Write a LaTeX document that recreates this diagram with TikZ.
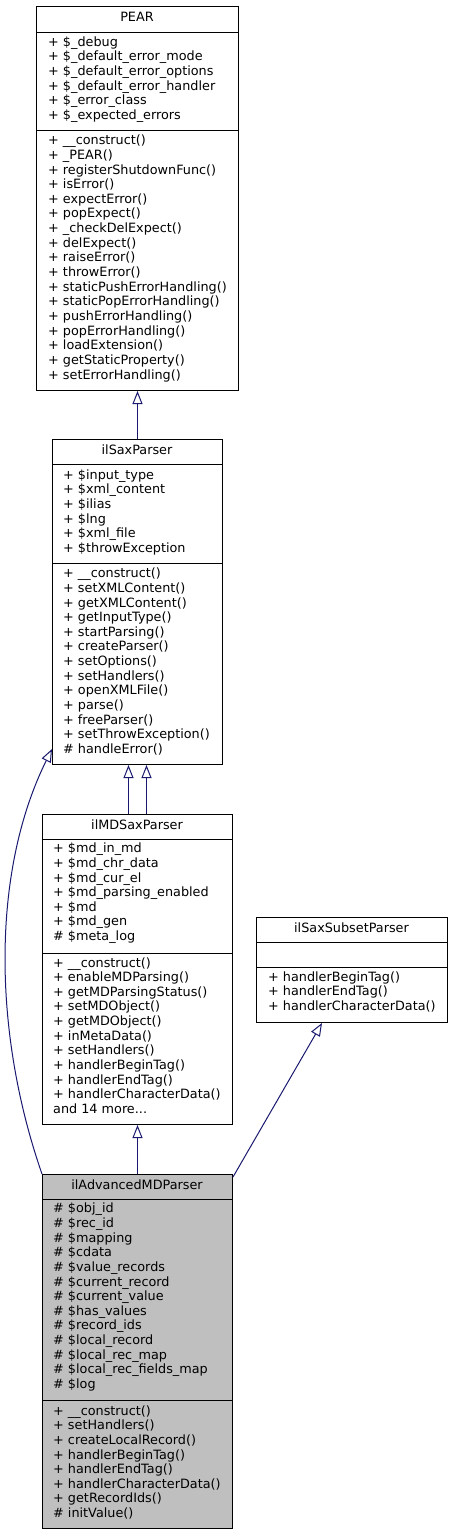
\documentclass[tikz,border=0pt]{standalone}
\usepackage{fontspec}
\setmainfont{DejaVu Sans}
\usetikzlibrary{arrows.meta}
\definecolor{edgeblue}{HTML}{191970}
\definecolor{curfill}{HTML}{BFBFBF}
\tikzset{
  cls/.style={draw=black, line width=1pt, fill=white, rectangle, inner sep=0pt, anchor=north west},
  curcls/.style={cls, fill=curfill},
  sepline/.style={draw=black, line width=1pt},
  mem/.style={anchor=mid west, inner sep=0pt, font=\fontsize{12.8}{14.65}\selectfont},
  ttl/.style={anchor=mid, inner sep=0pt, font=\fontsize{12.8}{14.65}\selectfont},
  inh/.style={draw=edgeblue, line width=1pt, -{Triangle[open, length=13pt, width=10pt]}},
}
\newcommand\mydots{...}
\newcommand\mlist[4]{%
  \foreach \t [count=\i from 0] in {#4} {\node[mem] (#1-\i) at (#2, {#3+\i*14.65}) {\t};}}
\begin{document}
\begin{tikzpicture}[x=1pt, y=-1pt]
\useasboundingbox (0,0) rectangle (453,1535);
% PEAR
\node[cls, minimum width=202pt, minimum height=384pt] (pear) at (36,6) {};
\draw[sepline] (36,32) -- (238,32);
\draw[sepline] (36,130) -- (238,130);
\node[ttl] (pear-t) at (137,19) {PEAR};
\mlist{pearA}{48}{43.5}{+ \$\_debug, + \$\_default\_error\_mode, + \$\_default\_error\_options, + \$\_default\_error\_handler, + \$\_error\_class, + \$\_expected\_errors}
\mlist{pearM}{48}{142}{+ \_\_construct(), + \_PEAR(), + registerShutdownFunc(), + isError(), + expectError(), + popExpect(), + \_checkDelExpect(), + delExpect(), + raiseError(), + throwError(), + staticPushErrorHandling(), + staticPopErrorHandling(), + pushErrorHandling(), + popErrorHandling(), + loadExtension(), + getStaticProperty(), + setErrorHandling()}
% ilSaxParser
\node[cls, minimum width=170pt, minimum height=325pt] (sax) at (52,439) {};
\draw[sepline] (52,464) -- (222,464);
\draw[sepline] (52,563) -- (222,563);
\node[ttl] (sax-t) at (137,451.5) {ilSaxParser};
\mlist{saxA}{63}{476.5}{+ \$input\_type, + \$xml\_content, + \$ilias, + \$lng, + \$xml\_file, + \$throwException}
\mlist{saxM}{63}{575}{+ \_\_construct(), + setXMLContent(), + getXMLContent(), + getInputType(), + startParsing(), + createParser(), + setOptions(), + setHandlers(), + openXMLFile(), + parse(), + freeParser(), + setThrowException(), \# handleError()}
% ilMDSaxParser
\node[cls, minimum width=190pt, minimum height=310pt] (md) at (42,814) {};
\draw[sepline] (42,839) -- (232,839);
\draw[sepline] (42,953) -- (232,953);
\node[ttl] (md-t) at (137,826.5) {ilMDSaxParser};
\mlist{mdA}{53}{850}{+ \$md\_in\_md, + \$md\_chr\_data, + \$md\_cur\_el, + \$md\_parsing\_enabled, + \$md, + \$md\_gen, \# \$meta\_log}
\mlist{mdM}{53}{964.3}{+ \_\_construct(), + enableMDParsing(), + getMDParsingStatus(), + setMDObject(), + getMDObject(), + inMetaData(), + setHandlers(), + handlerBeginTag(), + handlerEndTag(), + handlerCharacterData(), and 14 more\mydots}
% ilSaxSubsetParser
\node[cls, minimum width=191pt, minimum height=105pt] (sub) at (256,917) {};
\draw[sepline] (256,942) -- (447,942);
\draw[sepline] (256,967) -- (447,967);
\node[ttl] (sub-t) at (351.5,929.5) {ilSaxSubsetParser};
\mlist{subM}{268}{978.3}{+ handlerBeginTag(), + handlerEndTag(), + handlerCharacterData()}
% ilAdvancedMDParser
\node[curcls, minimum width=190pt, minimum height=354pt] (adv) at (42,1174) {};
\draw[sepline] (42,1199) -- (232,1199);
\draw[sepline] (42,1400) -- (232,1400);
\node[ttl] (adv-t) at (137,1186.5) {ilAdvancedMDParser};
\mlist{advA}{53}{1210}{\# \$obj\_id, \# \$rec\_id, \# \$mapping, \# \$cdata, \# \$value\_records, \# \$current\_record, \# \$current\_value, \# \$has\_values, \# \$record\_ids, \# \$local\_record, \# \$local\_rec\_map, \# \$local\_rec\_fields\_map, \# \$log}
\mlist{advM}{53}{1412.3}{+ \_\_construct(), + setHandlers(), + createLocalRecord(), + handlerBeginTag(), + handlerEndTag(), + handlerCharacterData(), + getRecordIds(), \# initValue()}
% inheritance edges
\draw[inh] (sax.north) -- (pear.south);
\draw[inh] ([xshift=-9pt]md.north) -- ([xshift=-9pt]sax.south);
\draw[inh] ([xshift=9pt]md.north) -- ([xshift=9pt]sax.south);
\draw[inh] (adv.north) -- (md.south);
\draw[inh] ([yshift=-3pt]adv.north east) -- ([xshift=-30pt]sub.south);
\draw[inh] (adv.north west) .. controls (-8,1030) and (-8,870) .. ([yshift=16pt]sax.south west);
\end{tikzpicture}
\end{document}
